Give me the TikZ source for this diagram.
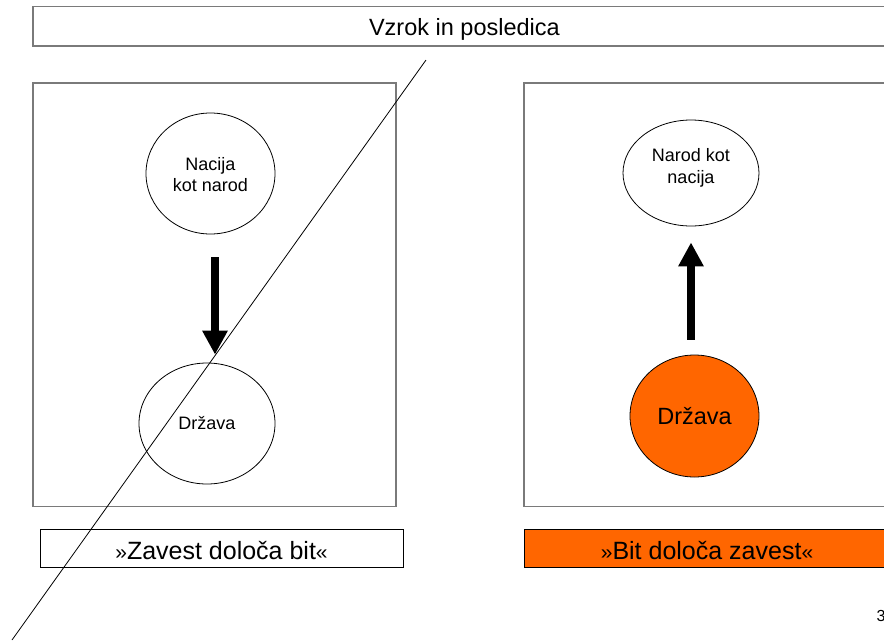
\documentclass[tikz,border=0pt]{standalone}
\usepackage{fontspec}
\setmainfont{Liberation Sans}
\usetikzlibrary{shapes.geometric,arrows.meta}
\definecolor{orng}{HTML}{FF6600}
\definecolor{framegray}{HTML}{7A7A7A}
\begin{document}
\begin{tikzpicture}[x=1pt,y=-1pt,
  panel/.style={draw=framegray,line width=1.3pt},
  labelbox/.style={draw=black,line width=1pt},
  ell/.style={draw=black,ellipse,line width=0.8pt,inner sep=0pt,
    font=\fontsize{18}{21.6}\selectfont},
  txt/.style={align=center,inner sep=0pt,font=\fontsize{18}{21.6}\selectfont},
  bigarrow/.style={line width=8pt,-{Triangle[width=24pt,length=24pt]}},
  crossline/.style={draw=black,line width=0.8pt},
  lbl/.style={anchor=base,inner sep=0pt,font=\fontsize{25}{30}\selectfont}
]
\useasboundingbox (0,0) rectangle (884,641);
\clip (0,0) rectangle (884,641);
\fill[white] (0,0) rectangle (884,641);

% title
\draw[panel] (33,6.5) rectangle (900,46);
\node[anchor=base,inner sep=0pt,font=\fontsize{23.5}{28}\selectfont] (title) at (464.4,35.7) {Vzrok in posledica};

% panels
\draw[panel] (33,83) rectangle (396,506.5);
\draw[panel] (524,83) rectangle (900,506.5);

% left panel
\node[ell,minimum width=129pt,minimum height=121pt] (nacija) at (210.5,173.5) {};
\node[txt] (nacijatxt) at (210.5,174.5) {Nacija\\kot narod};
\node[ell,minimum width=136pt,minimum height=121pt] (drzava) at (207,423.5) {Država};
\coordinate (lx) at (215,0);
\draw[bigarrow,shorten <=23pt,shorten >=8pt] (nacija.south -| lx) -- (drzava.north -| lx);

% right panel
\node[ell,minimum width=136pt,minimum height=106pt] (narod) at (691,173) {};
\node[txt] (narodtxt) at (691,168) {Narod kot\\nacija};
\node[ell,fill=orng,minimum width=129pt,minimum height=122pt,
  font=\fontsize{23.5}{28}\selectfont] (drzava2) at (694.5,416) {Država};
\coordinate (rx) at (691,0);
\draw[bigarrow,shorten <=15pt,shorten >=16pt] (drzava2.north -| rx) -- (narod.south -| rx);

% bottom labels
\draw[labelbox] (40.5,529.5) rectangle (403,567.5);
\node[lbl] (zavest) at (221.5,559) {{\fontsize{21}{25}\selectfont »}Zavest določa bit{\fontsize{21}{25}\selectfont «}};
\draw[labelbox,fill=orng] (524,529.5) rectangle (900,567.5);
\node[lbl] (bit) at (707,559) {{\fontsize{21}{25}\selectfont »}Bit določa zavest{\fontsize{21}{25}\selectfont «}};

% page number
\node[anchor=base west,inner sep=0pt,font=\fontsize{16}{19}\selectfont] (pagenum) at (876.5,621.7) {3};

% crossing line
\coordinate (d1) at (426,60);
\coordinate (d2) at (12,640);
\draw[crossline] (d1) -- (d2);
\end{tikzpicture}
\end{document}
